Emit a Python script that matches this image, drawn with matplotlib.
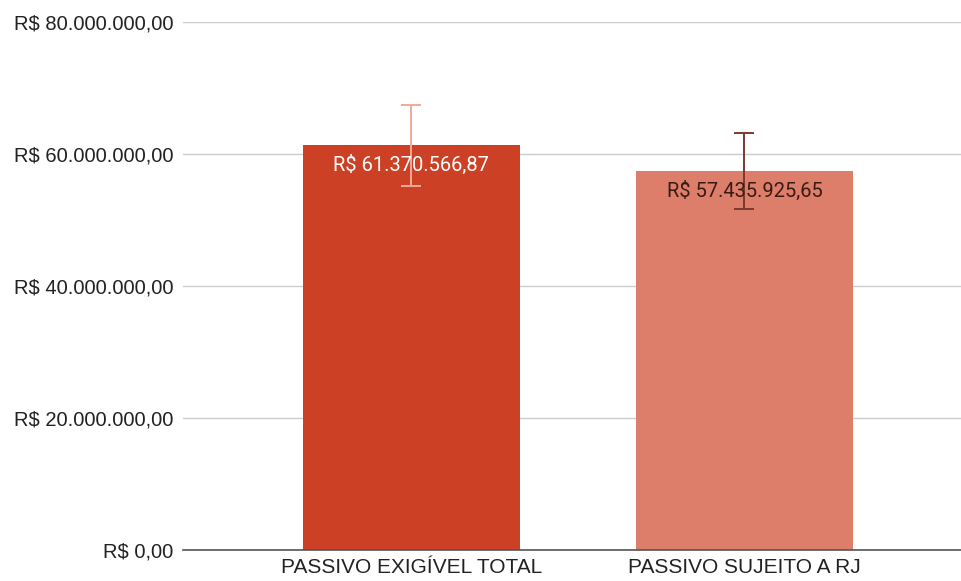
import numpy as np
import matplotlib.pyplot as plt
from matplotlib.ticker import FuncFormatter

categorias = ["PASSIVO EXIGÍVEL TOTAL", "PASSIVO SUJEITO A RJ"]
valores = [61370566.87, 57435925.65]
erro_pct = 0.10
rotulos = ["R$ 61.370.566,87", "R$ 57.435.925,65"]
cores = ["#cc4125", "#dd7e6b"]
cores_erro = ["#f2a899", "#7a3a2e"]
cores_texto = ["white", "#3a1a14"]


def brl(v, pos=None):
    s = f"{v:,.2f}"
    s = s.replace(",", "X").replace(".", ",").replace("X", ".")
    return "R$ " + s


fig = plt.figure(figsize=(9.61, 5.81), dpi=100)
ax = fig.add_axes([0.1904, 0.0534, 0.8096, 0.9086])

x = np.arange(len(categorias))
ax.bar(x, valores, width=0.65, color=cores, zorder=2)

for i, v in enumerate(valores):
    ax.errorbar(x[i], v, yerr=v * erro_pct, color=cores_erro[i], capsize=7.5,
                elinewidth=1.4, capthick=1.4, zorder=3)
    ax.annotate(rotulos[i], (x[i], v), xytext=(0, -14), textcoords="offset points",
                ha="center", va="center", color=cores_texto[i],
                fontsize=14.5, family="Roboto", zorder=4)

ax.set_ylim(0, 80000000)
ax.set_yticks([0, 20000000, 40000000, 60000000, 80000000])
ax.yaxis.set_major_formatter(FuncFormatter(brl))
ax.set_xlim(-0.685, 1.65)
ax.set_xticks(x)
ax.set_xticklabels(categorias)

for lab in ax.get_yticklabels():
    lab.set_family("Liberation Sans")
    lab.set_fontsize(14.5)
    lab.set_color("#222222")
for lab in ax.get_xticklabels():
    lab.set_family("Liberation Sans")
    lab.set_fontsize(15)
    lab.set_color("#222222")

ax.tick_params(axis="both", length=0)
ax.tick_params(axis="y", pad=7)
ax.tick_params(axis="x", pad=6)
ax.grid(axis="y", color="#cccccc", linewidth=1, zorder=0)
for s in ["top", "right", "left"]:
    ax.spines[s].set_visible(False)
ax.spines["bottom"].set_color("#555555")
ax.spines["bottom"].set_linewidth(1.2)

fig.savefig("out.png", dpi=100)
